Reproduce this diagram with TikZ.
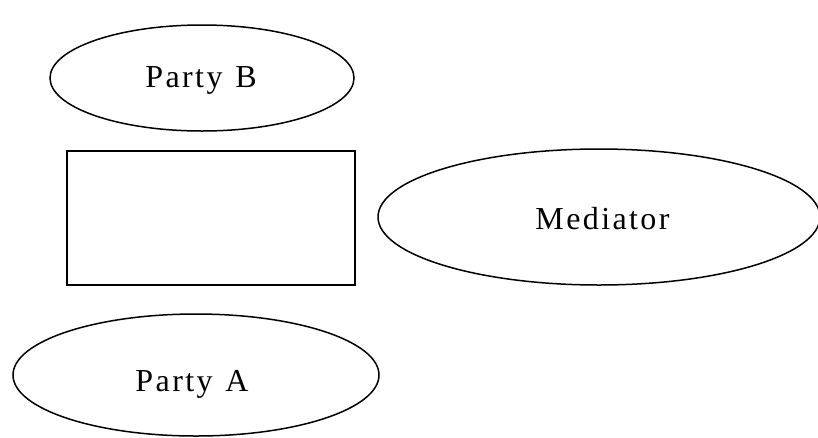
\documentclass[tikz,border=0pt]{standalone}
\usepackage{fontspec}
\setmainfont{Liberation Serif}
\newcommand\labelfont{\fontsize{32}{38}\selectfont}
\newlength\lskern
\setlength\lskern{2.4pt}
\usetikzlibrary{shapes.geometric}
\makeatletter
\newcommand\spacedtext[1]{\@tfor\sp@x:=#1\do{\sp@x\kern\lskern}\kern-\lskern}
\makeatother
% place text: #1 horizontal shift of centre (doubled kern), #2 baseline drop, #3 text
\newcommand\placedtext[3]{\raisebox{-#2}[0pt][0pt]{\makebox[0pt]{\hspace*{#1}\spacedtext{#3}}}}
\begin{document}
\begin{tikzpicture}[x=1pt,y=-1pt,
  every node/.style={font=\labelfont, inner sep=0pt},
  oval/.style={draw, line width=1.5pt, ellipse},
  boxshape/.style={draw, line width=1.5pt}]
\useasboundingbox (0,0) rectangle (818,437);
\node[oval, minimum width=304pt, minimum height=106pt] (partyb) at (202,78) {\placedtext{-2pt}{9.5pt}{Party~B}};
\node[boxshape, minimum width=288pt, minimum height=134pt] (box) at (211,218) {};
\node[oval, minimum width=442pt, minimum height=136pt] (mediator) at (599,217) {\placedtext{7pt}{12.5pt}{Mediator}};
\node[oval, minimum width=366pt, minimum height=122pt] (partya) at (196,375) {\placedtext{-8pt}{16.5pt}{Party~A}};
\end{tikzpicture}
\end{document}
